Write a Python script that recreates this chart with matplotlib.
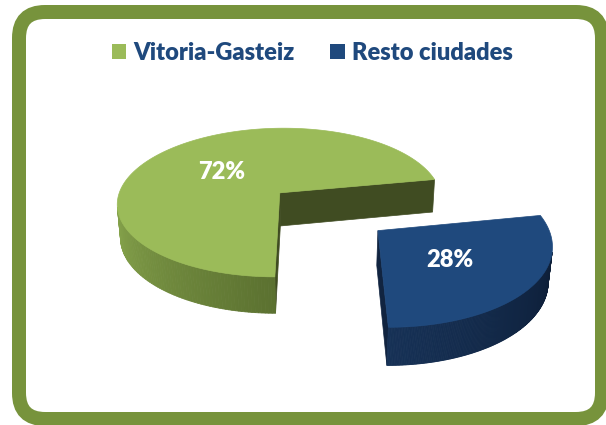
import numpy as np
import matplotlib
matplotlib.use('Agg')
import matplotlib.pyplot as plt
from matplotlib.patches import Polygon, FancyBboxPatch, Patch
from matplotlib.colors import to_rgb

# ---- data ----
labels = ['Vitoria-Gasteiz', 'Resto ciudades']
values = [72, 28]
pct_labels = ['72%', '28%']
explode = [0.0, 0.76]

# ---- style ----
top_colors = ['#9BBB59', '#1F497D']
wall_light = ['#8DAC50', '#163156']
wall_dark = ['#5B7130', '#0C1B32']
cut_colors = ['#404C22', '#112440']
text_color = '#1F497D'
border_color = '#77933C'

# ---- 3D projection (camera) ----
CX, CY, FOC, PHI, DIST = 312.93, 220.99, 1084.2, 0.49829, 6.43106
CENTER = np.array([-0.20633, 0.36676])
THICK = 0.23543
S, C = np.sin(PHI), np.cos(PHI)
CAM = np.array([0.0, -DIST*C, DIST*S])

def proj(X, Y, Z):
    X = np.asarray(X, float); Y = np.asarray(Y, float); Z = np.asarray(Z, float)
    depth = DIST + Y*C - Z*S
    return CX + FOC*X/depth, CY - FOC*(Y*S + Z*C)/depth

def visible(q, n):
    return np.dot(n, CAM - q) > 0

total = float(sum(values))
fracs = [v/total for v in values]
# first slice ends at 6 o'clock, slices run counter-clockwise
start = 270.0 - 360.0*fracs[0]

fig = plt.figure(figsize=(6.06, 4.25), dpi=100)
ax = fig.add_axes([0, 0, 1, 1])
ax.set_xlim(0, 606); ax.set_ylim(425, 0); ax.axis('off')

ax.add_patch(FancyBboxPatch((19, 12), 583, 407,
                            boxstyle='round,pad=0,rounding_size=26',
                            lw=14*0.72, ec=border_color, fc='white', zorder=0))

a0 = start
for i, (frac, ex) in enumerate(zip(fracs, explode)):
    a1 = a0 + 360.0*frac
    mid = np.radians((a0 + a1)/2)
    cen = CENTER + ex*np.array([np.cos(mid), np.sin(mid)])
    th = np.radians(np.linspace(a0, a1, 241))
    xs = cen[0] + np.cos(th); ys = cen[1] + np.sin(th)
    tx, ty = proj(xs, ys, 0*th)
    bx, by = proj(xs, ys, 0*th - THICK)
    z = 2 + i*10
    # radial cut faces
    for ang, sgn in ((a0, 1), (a1, -1)):
        ar = np.radians(ang)
        n = sgn*np.array([np.sin(ar), -np.cos(ar), 0.0])
        q = np.array([cen[0] + 0.5*np.cos(ar), cen[1] + 0.5*np.sin(ar), -THICK/2])
        if visible(q, n):
            X = [cen[0], cen[0] + np.cos(ar), cen[0] + np.cos(ar), cen[0]]
            Y = [cen[1], cen[1] + np.sin(ar), cen[1] + np.sin(ar), cen[1]]
            Zs = [0, 0, -THICK, -THICK]
            px, py = proj(X, Y, Zs)
            ax.add_patch(Polygon(np.c_[px, py], closed=True, fc=cut_colors[i],
                                 ec=cut_colors[i], lw=0.5, zorder=z))
    # outer wall with gradient
    lc = np.array(to_rgb(wall_light[i])); dc = np.array(to_rgb(wall_dark[i]))
    base = 180.0 if i == 0 else 270.0
    for k in range(len(th) - 1):
        tm = (th[k] + th[k+1])/2
        q = np.array([cen[0] + np.cos(tm), cen[1] + np.sin(tm), -THICK/2])
        n = np.array([np.cos(tm), np.sin(tm), 0.0])
        if not visible(q, n):
            continue
        deg = np.degrees(tm) % 360
        if i == 1 and deg < 90:
            deg += 360
        t = np.clip((deg - base)/90.0, 0, 1)
        col = lc + (dc - lc)*t
        poly = [(tx[k], ty[k]), (tx[k+1], ty[k+1]), (bx[k+1], by[k+1]), (bx[k], by[k])]
        ax.add_patch(Polygon(poly, closed=True, fc=col, ec=col, lw=0.6, zorder=z+1))
    # top face
    cx0, cy0 = proj(cen[0], cen[1], 0)
    top = np.vstack([[cx0, cy0], np.c_[tx, ty]])
    ax.add_patch(Polygon(top, closed=True, fc=top_colors[i], ec=top_colors[i],
                         lw=0.5, zorder=z+2))
    # percentage label
    lx, ly = proj(cen[0] + 0.5*np.cos(mid), cen[1] + 0.5*np.sin(mid), 0)
    ax.text(lx, ly + 2, pct_labels[i], color='white', fontsize=17, fontweight='heavy',
            family='Lato', ha='center', va='center', zorder=z+3)
    a0 = a1

handles = [Patch(fc=top_colors[0], ec='none'), Patch(fc=top_colors[1], ec='none')]
leg = ax.legend(handles, labels, loc='center', bbox_to_anchor=(0.515, 0.876), ncol=2,
                frameon=False, handlelength=0.62, handleheight=0.62,
                handletextpad=0.3, columnspacing=1.5,
                prop={'family': 'Lato', 'weight': 'heavy', 'size': 17})
for t in leg.get_texts():
    t.set_color(text_color)

fig.savefig('out.png', dpi=100)
